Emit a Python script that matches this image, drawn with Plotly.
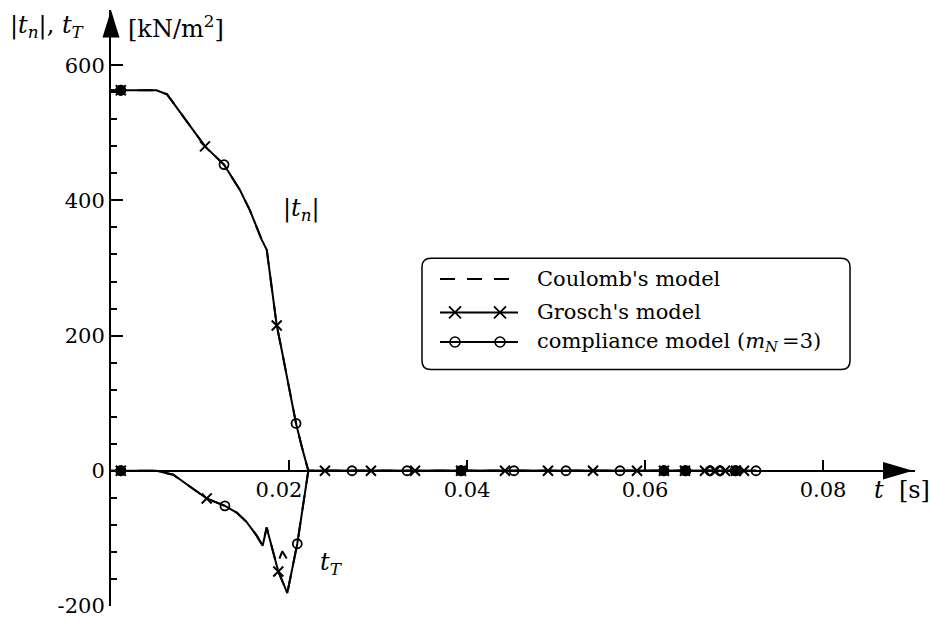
import plotly.graph_objects as go

# ---------------- data ----------------
# common contact phase curve (all three models practically coincide)
tn_t = [0, 0.0011, 0.0051, 0.0063, 0.0085, 0.01056, 0.0127, 0.0145, 0.01562, 0.01693,
        0.0175, 0.01787, 0.01831, 0.01862, 0.01907, 0.02011, 0.02079, 0.02143, 0.02217, 0.0725]
tn_v = [563, 563, 563, 557, 517, 480, 453, 415, 385, 342,
        327, 289, 249, 215, 186, 113, 70, 36, 0, 0]

tT_t = [0, 0.0011, 0.0051, 0.0070, 0.0085, 0.01075, 0.0128, 0.01412, 0.01525, 0.01637,
        0.01704, 0.01749, 0.0188, 0.01981, 0.02093, 0.02154, 0.02217, 0.0725]
tT_v = [0, 0, 0, -6, -20, -41, -52, -62, -76, -96,
        -111, -84, -149, -181, -108, -57, 0, 0]

# small deviation of Coulomb's model in t_T
coulomb_dev_t = [0.01892, 0.01925, 0.01974]
coulomb_dev_v = [-130, -119, -130]

# Grosch's model markers
grosch_tn_t = [0.0011, 0.01056, 0.01862]
grosch_tn_v = [563, 480, 215]
grosch_tT_t = [0.0011, 0.01075, 0.0188]
grosch_tT_v = [0, -41, -149]
grosch_axis_t = [0.02404, 0.02921, 0.03416, 0.03933, 0.04427, 0.0491, 0.05416, 0.0591,
                 0.06213, 0.06449, 0.06674, 0.06787, 0.06899, 0.07022, 0.07112]

# compliance model markers
compl_tn_t = [0.0011, 0.0127, 0.02079]
compl_tn_v = [563, 453, 70]
compl_tT_t = [0.0011, 0.0128, 0.02093]
compl_tT_v = [0, -52, -108]
compl_axis_t = [0.02708, 0.03326, 0.03933, 0.04528, 0.05112, 0.05719, 0.06213, 0.06461,
                0.0673, 0.06843, 0.07011, 0.07247]

x_ticks = [0.02, 0.04, 0.06, 0.08]
x_ticktext = ["0.02\u00a0\u00a0\u00a0", "0.04", "0.06", "0.08"]
y_ticks = [-200, 0, 200, 400, 600]
y_ticktext = ["-200", "0", "200", "400", "600"]
y_minor = [-160, -120, -80, -40, 40, 80, 120, 160, 240, 280, 320, 360, 440, 480, 520, 560]

legend_labels = ["Coulomb's model", "Grosch's model",
                 "compliance model (<i>m<sub>N</sub></i>\u2009=3)"]

# ---------------- layout geometry ----------------
W, H = 930, 628
L, R, T, B = 111, 15, 10, 13
PW, PH = W - L - R, H - T - B
XMAX = PW / 8900.0           # 8900 px per second
Y0PX = 477.7                 # pixel row of value 0
YPX = 0.686                  # pixels per kN/m2
YMAX = (Y0PX - T) / YPX
YMIN = -(H - B - Y0PX) / YPX

def px(x):   # pixel column -> paper x
    return (x - L) / PW

def py(y):   # pixel row -> paper y
    return (H - B - y) / PH

FONT = "DejaVu Serif"
BLACK = "black"

fig = go.Figure()

def line(x, y, dash="solid"):
    fig.add_trace(go.Scatter(x=x, y=y, mode="lines", showlegend=False, hoverinfo="skip",
                             line=dict(color=BLACK, width=2, dash=dash)))

def marks(x, y, sym, size, w=1.6):
    fig.add_trace(go.Scatter(x=x, y=y, mode="markers", showlegend=False,
                             marker=dict(symbol=sym, size=size, color=BLACK,
                                         line=dict(color=BLACK, width=w))))

# Coulomb (dashed, mostly hidden underneath the coinciding solid curves)
line(tn_t, tn_v, dash="15px,12px")
line(tT_t, tT_v, dash="15px,12px")
line(coulomb_dev_t, coulomb_dev_v)
# Grosch & compliance lines
line(tn_t, tn_v)
line(tT_t, tT_v)

g_all_t = grosch_tn_t + grosch_tT_t + grosch_axis_t
g_all_v = grosch_tn_v + grosch_tT_v + [0] * len(grosch_axis_t)
c_all_t = compl_tn_t + compl_tT_t + compl_axis_t
c_all_v = compl_tn_v + compl_tT_v + [0] * len(compl_axis_t)

marks(g_all_t, g_all_v, "x-thin", 10, 2)
marks(c_all_t, c_all_v, "circle-open", 9, 1.8)

# where a cross and a circle fall on the same spot they merge into a blot
blot_t, blot_v = [], []
for gt, gv in zip(g_all_t, g_all_v):
    for ct, cv in zip(c_all_t, c_all_v):
        if abs(gt - ct) < 0.00025 and abs(gv - cv) < 5:
            blot_t.append(gt)
            blot_v.append(gv)
marks(blot_t, blot_v, "circle", 10, 1)

# ---------- legend (markers in pixel overlay axes x2/y2) ----------
leg_x0, leg_x1, leg_y0, leg_y1, rad = 422, 850, 262, 375, 9
rows = [283, 317, 347]
samp_x0, samp_x1 = 440, 518
samp_m = [455, 500]

fig.add_trace(go.Scatter(x=samp_m, y=[rows[1]] * 2, xaxis="x2", yaxis="y2", mode="markers",
                         showlegend=False,
                         marker=dict(symbol="x-thin", size=12, color=BLACK,
                                     line=dict(color=BLACK, width=1.8))))
fig.add_trace(go.Scatter(x=samp_m, y=[rows[2]] * 2, xaxis="x2", yaxis="y2", mode="markers",
                         showlegend=False,
                         marker=dict(symbol="circle-open", size=10, color=BLACK,
                                     line=dict(color=BLACK, width=1.6))))

shapes = []
X0, X1, Y0, Y1 = px(leg_x0), px(leg_x1), py(leg_y0), py(leg_y1)
rx, ry = rad / PW, rad / PH
box = (f"M {X0+rx},{Y0} L {X1-rx},{Y0} Q {X1},{Y0} {X1},{Y0-ry} "
       f"L {X1},{Y1+ry} Q {X1},{Y1} {X1-rx},{Y1} "
       f"L {X0+rx},{Y1} Q {X0},{Y1} {X0},{Y1+ry} "
       f"L {X0},{Y0-ry} Q {X0},{Y0} {X0+rx},{Y0} Z")
shapes.append(dict(type="path", path=box, xref="paper", yref="paper",
                   line=dict(color=BLACK, width=1.5), fillcolor="white", layer="below"))
for i, r in enumerate(rows):
    shapes.append(dict(type="line", x0=px(samp_x0), x1=px(samp_x1), y0=py(r), y1=py(r),
                       xref="paper", yref="paper",
                       line=dict(color=BLACK, width=2, dash="15px,12px" if i == 0 else "solid")))

# axis arrowheads (paper coords so they are not clipped)
ax_x = L
shapes.append(dict(type="path", xref="paper", yref="paper", fillcolor=BLACK, line=dict(width=0),
                   path=f"M {px(ax_x)},{py(T)} L {px(ax_x-8.5)},{py(T+28)} "
                        f"L {px(ax_x+8.5)},{py(T+28)} Z"))
shapes.append(dict(type="path", xref="paper", yref="paper", fillcolor=BLACK, line=dict(width=0),
                   path=f"M {px(W-17)},{py(Y0PX)} L {px(W-47)},{py(Y0PX-9)} "
                        f"L {px(W-47)},{py(Y0PX+9)} Z"))

annotations = []

def label(txt, x, y, size=24, xanchor="left"):
    annotations.append(dict(x=px(x), y=py(y), xref="paper", yref="paper", text=txt,
                            showarrow=False, xanchor=xanchor, yanchor="middle",
                            font=dict(family=FONT, size=size, color=BLACK)))

for lab, r in zip(legend_labels, rows):
    label(lab, 535, r, size=21)

label("|<i>t<sub>n</sub></i>|, <i>t<sub>T</sub></i>", 8, 27)
label("[kN/m<sup>2</sup>]", 126, 27)
label("<i>t</i>\u00a0\u00a0[s]", 872, 497)
label("|<i>t<sub>n</sub></i>|", 301, 213, xanchor="center")
label("<i>t<sub>T</sub></i>", 331, 572, xanchor="center")

fig.update_layout(
    width=W, height=H,
    margin=dict(l=L, r=R, t=T, b=B, pad=0),
    paper_bgcolor="white", plot_bgcolor="white",
    showlegend=False,
    shapes=shapes, annotations=annotations,
    font=dict(family=FONT, size=21, color=BLACK),
    xaxis=dict(range=[0, XMAX], anchor="free", position=(0 - YMIN) / (YMAX - YMIN),
               showline=True, linecolor=BLACK, linewidth=2, showgrid=False, zeroline=False,
               ticks="inside", ticklen=10, tickwidth=2, tickcolor=BLACK,
               tickvals=x_ticks, ticktext=x_ticktext,
               tickfont=dict(family=FONT, size=21, color=BLACK)),
    yaxis=dict(range=[YMIN, YMAX], showline=True, linecolor=BLACK, linewidth=2,
               showgrid=False, zeroline=False,
               ticks="inside", ticklen=12, tickwidth=2, tickcolor=BLACK,
               tickvals=y_ticks, ticktext=y_ticktext,
               tickfont=dict(family=FONT, size=21, color=BLACK),
               minor=dict(tickvals=y_minor, ticks="inside", ticklen=6, tickwidth=1.5,
                          tickcolor=BLACK, showgrid=False)),
    xaxis2=dict(range=[L, L + PW], overlaying="x", visible=False, showgrid=False, zeroline=False),
    yaxis2=dict(range=[T + PH, T], overlaying="y", visible=False, showgrid=False, zeroline=False),
)

fig.write_html("out.html")
